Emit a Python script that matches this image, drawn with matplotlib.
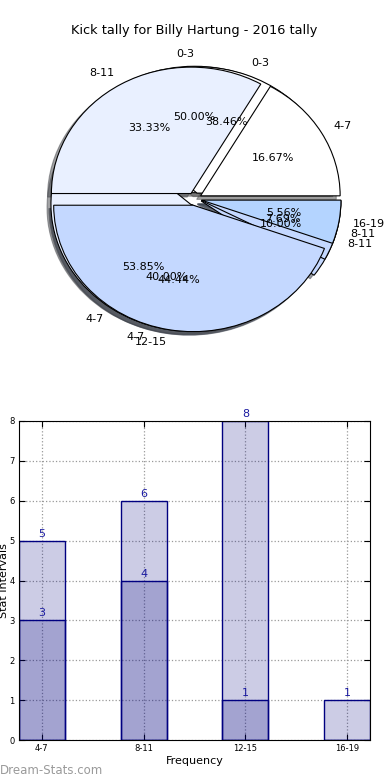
import numpy as np
import matplotlib.pyplot as plt

# pie data - three tallies drawn on top of each other
pie_a_labels = ['4-7', '8-11', '12-15', '16-19']
pie_a_values = [3, 6, 8, 1]
pie_b_labels = ['0-3', '4-7', '8-11']
pie_b_values = [5, 4, 1]
pie_c_labels = ['0-3', '4-7', '8-11']
pie_c_values = [5, 7, 1]
pie_colors = ['#ffffff', '#e9f0ff', '#c4d8ff', '#b4d4ff']

# bar data
bar_labels = ['4-7', '8-11', '12-15', '16-19']
bar_total = [5, 6, 8, 1]
bar_part = [3, 4, 1, 0]

fig = plt.figure(figsize=(3.9, 7.8), dpi=100)

# pie (not equal aspect, like the old generator)
ax1 = fig.add_axes([20/390, 1 - 357/780, 349/390, 316/780])
for labels, values in [(pie_b_labels, pie_b_values),
                       (pie_c_labels, pie_c_values),
                       (pie_a_labels, pie_a_values)]:
    ax1.pie(values, labels=labels, colors=pie_colors[:len(values)],
            explode=[0.05] * len(values), autopct='%1.2f%%', shadow=True,
            wedgeprops={'edgecolor': 'black', 'linewidth': 0.8},
            textprops={'fontsize': 8})
ax1.set_aspect('auto')
ax1.set_xlim(-1.25, 1.25)
ax1.set_ylim(-1.25, 1.25)
ax1.set_title('Kick tally for Billy Hartung - 2016 tally', fontsize=9.3, pad=5)

# bars
ax2 = fig.add_axes([19/390, 40/780, 351/390, 319/780])
x = np.arange(len(bar_labels))
for vals in [bar_total, bar_part]:
    ax2.bar(x, vals, width=0.45, facecolor=(0, 0, 0.5, 0.2),
            edgecolor='navy', linewidth=1, zorder=2)
    for xi, v in zip(x, vals):
        if v > 0:
            ax2.text(xi, v + 0.05, str(v), ha='center', va='bottom',
                     color='#1a1aa0', fontsize=8)

ax2.set_xlim(-0.225, 3.225)
ax2.set_ylim(0, 8)
ax2.set_xticks(x)
ax2.set_xticklabels(bar_labels)
ax2.set_yticks(range(0, 9))
ax2.grid(True, linestyle=':', color='#999999', linewidth=0.9, zorder=0)
ax2.tick_params(direction='in', top=True, right=True, labelsize=6, length=4, pad=3)
ax2.set_xlabel('Frequency', fontsize=8, labelpad=2)
ax2.set_ylabel('Stat Intervals', fontsize=8)
ax2.yaxis.set_label_coords(-0.028, 0.5)

fig.text(0.0, 10/780, 'Dream-Stats.com', color='#9a9a9a', fontsize=8.5, va='center')

fig.savefig('out.png', dpi=100)
